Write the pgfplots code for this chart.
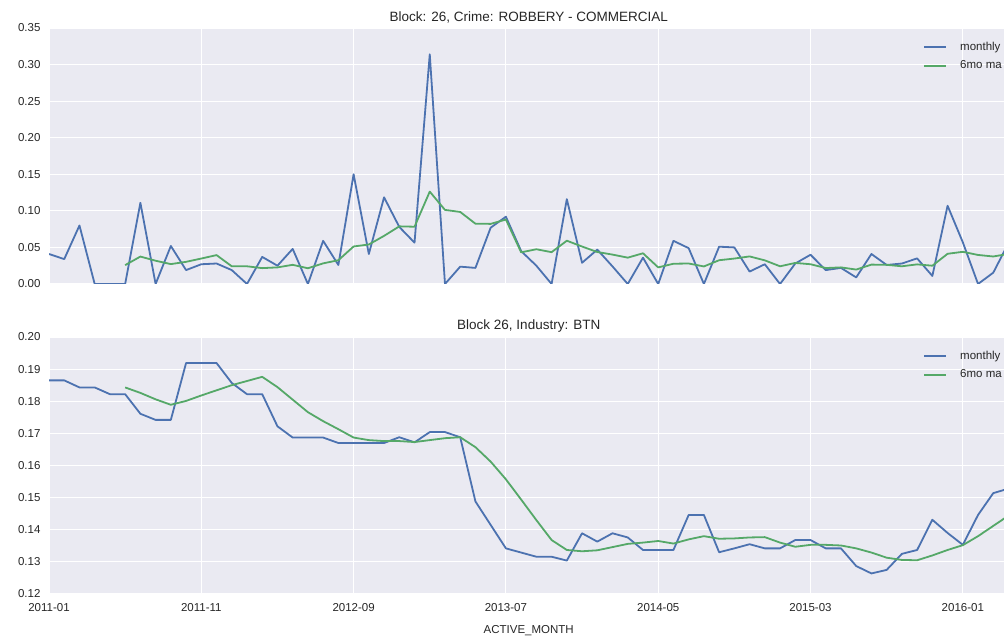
\documentclass[border=0pt]{standalone}
\usepackage{fontspec}
\setmainfont{Liberation Sans}
\usepackage{pgfplots}
\pgfplotsset{compat=1.18}
\definecolor{sbblue}{HTML}{4C72B0}
\definecolor{sbgreen}{HTML}{55A868}
\definecolor{sbbg}{HTML}{EAEAF2}
\definecolor{sbtext}{HTML}{262626}
\pgfplotsset{sbstyle/.style={
  scale only axis, width=959.5pt, xmin=0, xmax=63,
  axis background/.style={fill=sbbg},
  axis line style={draw=none},
  grid=major, major grid style={white, line width=1.1pt},
  tick style={draw=none},
  xtick={0,10,...,60},
  ticklabel style={font=\fontsize{11.5}{12}\selectfont, text=sbtext},
  /pgf/number format/assume math mode=true,
  yticklabel style={xshift=-5pt, /pgf/number format/.cd, fixed, fixed zerofill, precision=2},
  xticklabel style={yshift=-6pt},
  title style={font=\fontsize{13.5}{14}\selectfont, text=sbtext, yshift=-5pt},
  label style={font=\fontsize{11.5}{12}\selectfont, text=sbtext},
  xlabel style={yshift=-7pt},
  legend style={draw=none, fill=none, font=\fontsize{11.5}{12}\selectfont, text=sbtext,
    at={(0.9984,0.962)}, anchor=north east, row sep=5pt,
    /tikz/every odd column/.append style={column sep=12pt}},
  legend cell align=left,
  legend image code/.code={\fill[#1, draw=none] (0pt,-1pt) rectangle (22pt,1pt);},
}}
\begin{document}
\begin{tikzpicture}
\begin{axis}[sbstyle, at={(49pt,352pt)}, anchor=south west, height=256pt,
  ymin=0, ymax=0.35, ytick={0,0.05,...,0.351}, xticklabels={},
  title={Block: 26, Crime: ROBBERY - COMMERCIAL}]
\addplot[sbblue, line width=1.8pt, line join=round] coordinates {
(0,0.041)(1,0.034)(2,0.080)(3,0)(4,0)(5,0)(6,0.111)(7,0)(8,0.052)(9,0.019)
(10,0.027)(11,0.028)(12,0.019)(13,0)(14,0.037)(15,0.025)(16,0.048)(17,0)(18,0.059)(19,0.026)
(20,0.150)(21,0.041)(22,0.1185)(23,0.078)(24,0.0565)(25,0.314)(26,0)(27,0.0237)(28,0.022)(29,0.077)
(30,0.092)(31,0.045)(32,0.025)(33,0)(34,0.116)(35,0.029)(36,0.047)(37,0.024)(38,0)(39,0.036)
(40,0)(41,0.059)(42,0.049)(43,0)(44,0.051)(45,0.050)(46,0.017)(47,0.027)(48,0)(49,0.028)
(50,0.040)(51,0.019)(52,0.022)(53,0.009)(54,0.041)(55,0.026)(56,0.028)(57,0.035)(58,0.011)(59,0.107)
(60,0.057)(61,0)(62,0.0155)(63,0.056)};
\addlegendentry{monthly}
\addplot[sbgreen, line width=1.8pt, line join=round] coordinates {
(5,0.0258)(6,0.0375)(7,0.0318)(8,0.0272)(9,0.0303)
(10,0.0348)(11,0.0395)(12,0.0242)(13,0.0242)(14,0.0217)(15,0.0227)(16,0.0262)(17,0.0215)(18,0.0282)(19,0.0325)
(20,0.0513)(21,0.0540)(22,0.0658)(23,0.0788)(24,0.0783)(25,0.1263)(26,0.1013)(27,0.0985)(28,0.0824)(29,0.0822)
(30,0.0881)(31,0.0433)(32,0.0475)(33,0.0435)(34,0.0592)(35,0.0512)(36,0.0437)(37,0.0402)(38,0.0360)(39,0.0420)
(40,0.0227)(41,0.0277)(42,0.0280)(43,0.0240)(44,0.0325)(45,0.0348)(46,0.0377)(47,0.0323)(48,0.0242)(49,0.0288)
(50,0.0270)(51,0.0218)(52,0.0227)(53,0.0197)(54,0.0265)(55,0.0262)(56,0.0242)(57,0.0268)(58,0.0250)(59,0.0413)
(60,0.0440)(61,0.0397)(62,0.0376)(63,0.0411)};
\addlegendentry{6mo ma}
\end{axis}
\begin{axis}[sbstyle, at={(49pt,42pt)}, anchor=south west, height=257pt,
  ymin=0.12, ymax=0.20, ytick={0.12,0.13,...,0.201},
  xticklabels={2011-01,2011-11,2012-09,2013-07,2014-05,2015-03,2016-01},
  xlabel={ACTIVE\_MONTH},
  title={Block 26, Industry: BTN}]
\addplot[sbblue, line width=1.8pt, line join=round] coordinates {
(0,0.1865)(1,0.1865)(2,0.1843)(3,0.1843)(4,0.1822)(5,0.1822)(6,0.1761)(7,0.1742)(8,0.1742)(9,0.1919)
(10,0.1919)(11,0.1919)(12,0.1857)(13,0.1822)(14,0.1822)(15,0.1722)(16,0.1687)(17,0.1687)(18,0.1687)(19,0.1670)
(20,0.1670)(21,0.1670)(22,0.1670)(23,0.1688)(24,0.1672)(25,0.1704)(26,0.1704)(27,0.1688)(28,0.1488)(29,0.1415)
(30,0.1342)(31,0.1329)(32,0.1316)(33,0.1316)(34,0.1304)(35,0.1389)(36,0.1363)(37,0.1389)(38,0.1376)(39,0.1337)
(40,0.1337)(41,0.1337)(42,0.1446)(43,0.1446)(44,0.1330)(45,0.1342)(46,0.1355)(47,0.1342)(48,0.1342)(49,0.1368)
(50,0.1368)(51,0.1342)(52,0.1342)(53,0.1287)(54,0.1264)(55,0.1275)(56,0.1325)(57,0.1337)(58,0.1431)(59,0.1390)
(60,0.1353)(61,0.1446)(62,0.1514)(63,0.1528)};
\addlegendentry{monthly}
\addplot[sbgreen, line width=1.8pt, line join=round] coordinates {
(5,0.1843)(6,0.1826)(7,0.1806)(8,0.1789)(9,0.1801)
(10,0.1818)(11,0.1834)(12,0.1850)(13,0.1863)(14,0.1876)(15,0.1844)(16,0.1805)(17,0.1766)(18,0.1738)(19,0.1713)
(20,0.1687)(21,0.1679)(22,0.1676)(23,0.1676)(24,0.1673)(25,0.1679)(26,0.1685)(27,0.1688)(28,0.1657)(29,0.1612)
(30,0.1557)(31,0.1494)(32,0.1430)(33,0.1368)(34,0.1337)(35,0.1333)(36,0.1336)(37,0.1346)(38,0.1356)(39,0.1360)
(40,0.1365)(41,0.1357)(42,0.1370)(43,0.1380)(44,0.1372)(45,0.1373)(46,0.1376)(47,0.1377)(48,0.1360)(49,0.1347)
(50,0.1353)(51,0.1353)(52,0.1351)(53,0.1342)(54,0.1329)(55,0.1313)(56,0.1306)(57,0.1305)(58,0.1320)(59,0.1337)
(60,0.1352)(61,0.1380)(62,0.1412)(63,0.1444)};
\addlegendentry{6mo ma}
\end{axis}
\pgfresetboundingbox
\path[use as bounding box] (0,0) rectangle (1004pt,636pt);
\end{tikzpicture}
\end{document}
